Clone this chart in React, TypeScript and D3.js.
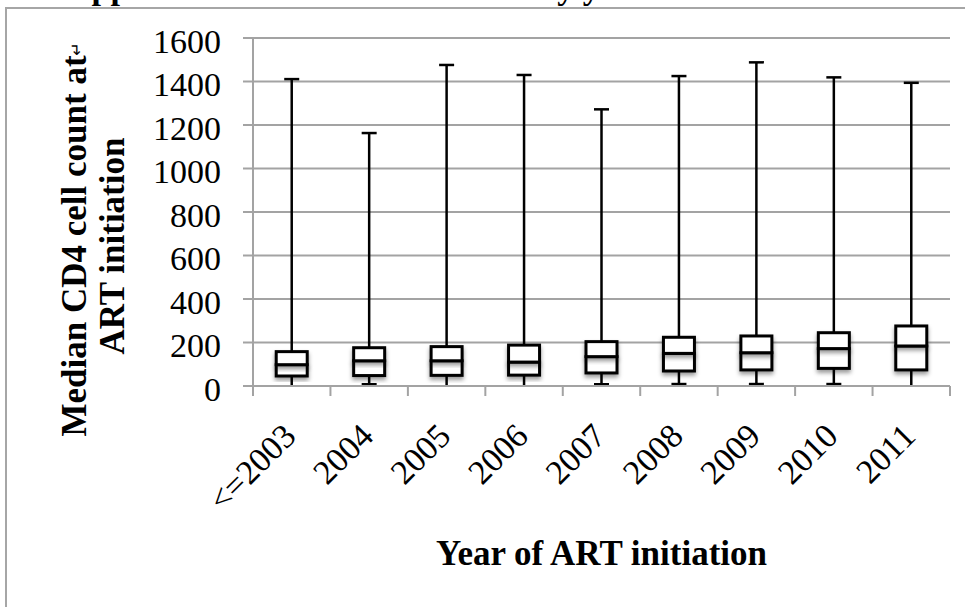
import * as d3 from "d3";

const years = ["<=2003", "2004", "2005", "2006", "2007", "2008", "2009", "2010", "2011"];
const lowValues = [0, 8, 0, 0, 8, 9, 9, 9, 0];
const q1Values = [46, 48, 49, 50, 60, 69, 74, 81, 74];
const medianValues = [98, 116, 116, 110, 135, 150, 153, 172, 184];
const q3Values = [158, 176, 181, 188, 204, 224, 230, 245, 276];
const highValues = [1411, 1163, 1476, 1430, 1272, 1425, 1488, 1419, 1394];
const yTicks = [0, 200, 400, 600, 800, 1000, 1200, 1400, 1600];

const W = 965;
const H = 607;
const left = 253;
const right = 950;
const top = 38;
const bottom = 386;

const serif = "'Liberation Serif', 'Times New Roman', serif";
const grid = "#a3a3a3";

const App = () => {
  const x = d3.scaleBand<string>().domain(years).range([left, right]);
  const y = d3.scaleLinear().domain([0, 1600]).range([bottom, top]);
  const bw = 31;
  const cap = 15;

  const boxes = years.map((yr, i) => ({
    yr,
    cx: (x(yr) ?? 0) + x.bandwidth() / 2,
    lo: lowValues[i],
    q1: q1Values[i],
    med: medianValues[i],
    q3: q3Values[i],
    hi: highValues[i],
  }));

  return (
    <svg
      width={W}
      height={H}
      viewBox={`0 0 ${W} ${H}`}
      style={{ position: "absolute", left: 0, top: 0, background: "#fff" }}
    >
      <defs>
        <filter id="shadow" x="-30%" y="-30%" width="160%" height="180%">
          <feDropShadow dx="0" dy="3" stdDeviation="2" floodColor="#000" floodOpacity="0.4" />
        </filter>
      </defs>

      <text x={67} y={-1} fontFamily={serif} fontWeight="bold" fontSize={34}>
        Appendix 2: Median CD4 count by year of ART initiation
      </text>

      <rect x={6} y={8} width={1000} height={700} fill="none" stroke="#a6a6a6" strokeWidth={2} />

      {/* gridlines */}
      {yTicks.filter((t) => t > 0).map((t) => (
        <line key={t} x1={left - 10} x2={right} y1={y(t)} y2={y(t)} stroke={grid} strokeWidth={2} />
      ))}
      <line x1={left} x2={left} y1={top} y2={bottom + 10} stroke={grid} strokeWidth={2} />

      {/* y tick labels */}
      {yTicks.map((t) => (
        <text
          key={t}
          x={221}
          y={y(t) + 14.5}
          textAnchor="end"
          fontFamily={serif}
          fontSize={34}
        >
          {t}
        </text>
      ))}

      {/* boxes */}
      {boxes.map((b) => (
        <g key={b.yr}>
          <line x1={b.cx} x2={b.cx} y1={y(b.hi)} y2={y(b.q3)} stroke="#000" strokeWidth={2.5} />
          <line x1={b.cx} x2={b.cx} y1={y(b.q1)} y2={y(b.lo)} stroke="#000" strokeWidth={2.5} />
          <line x1={b.cx - cap / 2} x2={b.cx + cap / 2} y1={y(b.hi)} y2={y(b.hi)} stroke="#000" strokeWidth={2.5} />
          {b.lo > 0 && (
            <line x1={b.cx - cap / 2} x2={b.cx + cap / 2} y1={y(b.lo)} y2={y(b.lo)} stroke="#000" strokeWidth={2.5} />
          )}
          <rect
            x={b.cx - bw / 2}
            y={y(b.med)}
            width={bw}
            height={y(b.q1) - y(b.med)}
            fill="#fff"
            stroke="#000"
            strokeWidth={3}
            filter="url(#shadow)"
          />
          <rect
            x={b.cx - bw / 2}
            y={y(b.q3)}
            width={bw}
            height={y(b.med) - y(b.q3)}
            fill="#fff"
            stroke="#000"
            strokeWidth={3}
            filter="url(#shadow)"
          />
        </g>
      ))}

      {/* x axis */}
      <line x1={left - 10} x2={right} y1={bottom} y2={bottom} stroke={grid} strokeWidth={2} />
      {[...years.map((yr) => x(yr) ?? 0), right].map((px, i) => (
        <line key={i} x1={px} x2={px} y1={bottom} y2={bottom + 10} stroke={grid} strokeWidth={2} />
      ))}
      {boxes.map((b) => (
        <text
          key={b.yr}
          transform={`translate(${b.cx + 6}, 438) rotate(-45)`}
          textAnchor="end"
          fontFamily={serif}
          fontSize={34}
        >
          {b.yr}
        </text>
      ))}

      {/* axis titles */}
      <g transform="translate(0, 246) rotate(-90)" fontFamily={serif} fontWeight="bold" fontSize={35}>
        <text x={0} y={86} textAnchor="middle">Median CD4 cell count at</text>
        <text x={0} y={124} textAnchor="middle">ART initiation</text>
      </g>
      <text
        transform="translate(82, 49) rotate(-90)"
        fontFamily="'DejaVu Sans', sans-serif"
        fontSize={16}
        textAnchor="middle"
      >
        ↵
      </text>
      <text
        x={(left + right) / 2}
        y={565}
        textAnchor="middle"
        fontFamily={serif}
        fontWeight="bold"
        fontSize={35}
      >
        Year of ART initiation
      </text>
    </svg>
  );
};

export default App;
